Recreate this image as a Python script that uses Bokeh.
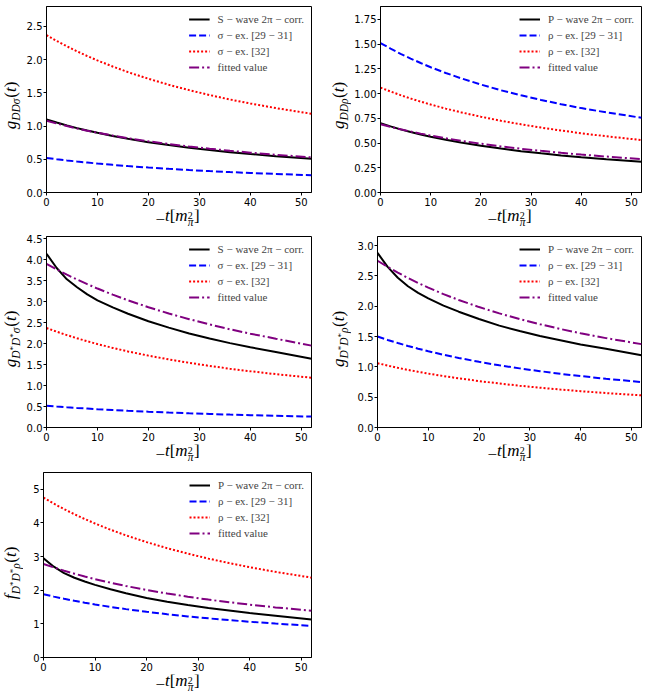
import math
from bokeh.plotting import figure
from bokeh.models import Range1d, FixedTicker, PrintfTickFormatter, Spacer
from bokeh.core.properties import value
from bokeh.layouts import column, row
from bokeh.embed import file_html
from bokeh.resources import INLINE

# ---------------- data ----------------
T = [0, 2, 4, 6, 8, 10, 13, 16, 20, 24, 28, 32, 36, 40, 45, 52]

# panel 1: g_{DD sigma}
p1_black = [1.10, 1.053, 1.009, 0.969, 0.932, 0.898, 0.851, 0.809, 0.758, 0.714, 0.675, 0.639, 0.607, 0.579, 0.546, 0.507]
p1_blue = [0.52, 0.501, 0.483, 0.466, 0.451, 0.436, 0.416, 0.398, 0.376, 0.356, 0.338, 0.322, 0.307, 0.294, 0.279, 0.26]
p1_red = [2.37, 2.282, 2.201, 2.125, 2.054, 1.988, 1.896, 1.812, 1.712, 1.622, 1.541, 1.467, 1.400, 1.340, 1.271, 1.185]
p1_purple = [1.08, 1.038, 1.000, 0.964, 0.931, 0.900, 0.857, 0.818, 0.771, 0.730, 0.692, 0.659, 0.628, 0.600, 0.568, 0.529]

# panel 2: g_{DD rho}
p2_black = [0.70, 0.668, 0.638, 0.612, 0.587, 0.564, 0.533, 0.505, 0.473, 0.444, 0.418, 0.396, 0.375, 0.356, 0.336, 0.311]
p2_blue = [1.51, 1.454, 1.402, 1.354, 1.309, 1.266, 1.208, 1.155, 1.091, 1.033, 0.982, 0.935, 0.892, 0.853, 0.810, 0.755]
p2_red = [1.06, 1.021, 0.984, 0.950, 0.919, 0.889, 0.848, 0.811, 0.766, 0.725, 0.689, 0.656, 0.626, 0.599, 0.568, 0.53]
p2_purple = [0.69, 0.663, 0.639, 0.616, 0.595, 0.575, 0.548, 0.523, 0.493, 0.466, 0.442, 0.421, 0.401, 0.383, 0.363, 0.338]

# panel 3: g_{D*D* sigma}
p3_black = [4.14, 3.80, 3.53, 3.34, 3.17, 3.03, 2.86, 2.71, 2.53, 2.38, 2.24, 2.12, 2.01, 1.91, 1.80, 1.64]
p3_blue = [0.52, 0.501, 0.483, 0.466, 0.451, 0.436, 0.416, 0.398, 0.376, 0.356, 0.338, 0.322, 0.307, 0.294, 0.279, 0.26]
p3_red = [2.37, 2.282, 2.201, 2.125, 2.054, 1.988, 1.896, 1.812, 1.712, 1.622, 1.541, 1.467, 1.400, 1.340, 1.271, 1.185]
p3_purple = [3.90, 3.765, 3.64, 3.525, 3.415, 3.31, 3.165, 3.03, 2.865, 2.715, 2.58, 2.455, 2.34, 2.235, 2.115, 1.95]

# panel 4: g_{D*D* rho}
p4_black = [2.88, 2.65, 2.47, 2.33, 2.22, 2.13, 2.01, 1.91, 1.79, 1.68, 1.59, 1.51, 1.44, 1.37, 1.30, 1.19]
p4_blue = [1.50, 1.444, 1.393, 1.345, 1.300, 1.258, 1.200, 1.147, 1.083, 1.026, 0.975, 0.929, 0.886, 0.848, 0.804, 0.75]
p4_red = [1.06, 1.021, 0.984, 0.950, 0.919, 0.889, 0.848, 0.811, 0.766, 0.725, 0.689, 0.656, 0.626, 0.599, 0.568, 0.53]
p4_purple = [2.75, 2.648, 2.554, 2.466, 2.383, 2.306, 2.200, 2.103, 1.986, 1.882, 1.788, 1.703, 1.625, 1.554, 1.474, 1.375]

# panel 5: f_{D*D* rho}
p5_black = [2.95, 2.70, 2.51, 2.37, 2.26, 2.16, 2.03, 1.91, 1.77, 1.66, 1.56, 1.47, 1.40, 1.32, 1.24, 1.13]
p5_blue = [1.88, 1.810, 1.746, 1.686, 1.629, 1.577, 1.504, 1.438, 1.358, 1.286, 1.222, 1.164, 1.111, 1.063, 1.008, 0.94]
p5_red = [4.75, 4.574, 4.411, 4.259, 4.117, 3.984, 3.800, 3.632, 3.431, 3.250, 3.088, 2.940, 2.807, 2.685, 2.546, 2.375]
p5_purple = [2.78, 2.677, 2.581, 2.492, 2.409, 2.331, 2.224, 2.126, 2.008, 1.902, 1.807, 1.721, 1.643, 1.571, 1.490, 1.39]

x_ticks = [0, 10, 20, 30, 40, 50]
y_ticks_1 = [0.0, 0.5, 1.0, 1.5, 2.0, 2.5]
y_ticks_2 = [0.0, 0.25, 0.5, 0.75, 1.0, 1.25, 1.5, 1.75]
y_ticks_3 = [0.0, 0.5, 1.0, 1.5, 2.0, 2.5, 3.0, 3.5, 4.0, 4.5]
y_ticks_4 = [0.0, 0.5, 1.0, 1.5, 2.0, 2.5, 3.0]
y_ticks_5 = [0, 1, 2, 3, 4, 5]

labels_sigma = ["S − wave 2π − corr.", "σ − ex. [29 − 31]", "σ − ex. [32]", "fitted value"]
labels_rho = ["P − wave 2π − corr.", "ρ − ex. [29 − 31]", "ρ − ex. [32]", "fitted value"]

# ---------------- helpers ----------------
W = {"g": 0.5, "D": 0.722, "t": 0.278, "m": 0.722, "f": 0.3, "σ": 0.56, "ρ": 0.52,
     "π": 0.55, "(": 0.333, ")": 0.333, "[": 0.333, "]": 0.333, "−": 0.564,
     "2": 0.5, "*": 0.5}
SERIF = "Liberation Serif"
M = 17    # main size
S = 11.5  # subscript size
AX_H = 17  # height of bottom tick-label strip
XH = 20    # height of x-label strip
DESC = 0.22  # font descent (em)


def tw(s, size):
    return sum(W.get(c, 0.5) for c in s) * size


def blank(w, h):
    f = figure(frame_width=w, frame_height=h, output_backend="svg", toolbar_location=None,
               x_axis_type=None, y_axis_type=None, min_border=0,
               x_range=Range1d(0, w), y_range=Range1d(0, h))
    f.outline_line_color = None
    f.background_fill_color = "white"
    f.border_fill_color = "white"
    return f


def put(f, x, y, text, size, italic, angle=0.0, baseline="bottom"):
    f.text(x=[x], y=[y], text=[text], angle=angle, text_font=value(SERIF),
           text_font_size=value(f"{size}px"),
           text_font_style="italic" if italic else "normal",
           text_align="left", text_baseline=baseline, text_color="black")


def ylabel_fig(w, h, parts, base_x, y_mid):
    f = blank(w, h)
    total = sum(tw(t, s) for t, s, sh, it in parts)
    y = y_mid - total / 2
    for text, size, shift, italic in parts:
        # anchor on the bottom of the em box (to the right of the rotated baseline)
        put(f, base_x - shift + DESC * size, y, text, size, italic, angle=math.pi / 2)
        y += tw(text, size)
    return f


def xlabel_fig(w, h, x_mid, base_y):
    f = blank(w, h)
    parts = [("−", M, 0, False, True), ("t", M, 0, True, True), ("[", M, 0, False, True),
             ("m", M, 0, True, True), ("2", 10, 4.5, False, False), ("π", S, -3.5, True, True),
             ("]", M, 0, False, True)]
    total = sum(tw(t, s) for t, s, sh, it, adv in parts if adv)
    x = x_mid - total / 2
    for text, size, shift, italic, adv in parts:
        # anchor on the bottom of the em box (below the baseline)
        put(f, x, base_y + shift - DESC * size, text, size, italic)
        if adv:
            x += tw(text, size)
    return f


def main_fig(width, bl, br, bt, fh, ymax, yticks, yfmt, series, labels):
    p = figure(width=width, height=bt + fh + AX_H, output_backend="svg",
               toolbar_location=None,
               x_range=Range1d(0, 52), y_range=Range1d(0, ymax),
               min_border_left=bl, min_border_right=br, min_border_top=bt,
               min_border_bottom=AX_H)
    p.xgrid.visible = False
    p.ygrid.visible = False
    p.outline_line_color = "black"
    p.outline_line_width = 1
    p.background_fill_color = "white"
    for ax in (p.xaxis[0], p.yaxis[0]):
        ax.axis_line_color = "black"
        ax.major_tick_line_color = "black"
        ax.minor_tick_line_color = None
        ax.major_tick_in = 0
        ax.major_tick_out = 3
        ax.major_label_standoff = 2
        ax.major_label_text_font = "DejaVu Sans"
        ax.major_label_text_font_size = "10px"
        ax.major_label_text_color = "black"
    p.yaxis.major_label_standoff = 1
    p.xaxis.ticker = FixedTicker(ticks=x_ticks)
    p.xaxis.formatter = PrintfTickFormatter(format="%d")
    p.yaxis.ticker = FixedTicker(ticks=yticks)
    p.yaxis.formatter = PrintfTickFormatter(format=yfmt)

    black, blue, red, purple = series
    p.line(T, black, line_color="black", line_width=2, legend_label=labels[0])
    p.line(T, blue, line_color="#0000ff", line_width=2, line_dash="7 3",
           legend_label=labels[1])
    p.line(T, red, line_color="#ff0000", line_width=2, line_dash="2 2",
           legend_label=labels[2])
    p.line(T, purple, line_color="#800080", line_width=2, line_dash="10 3 2 3",
           legend_label=labels[3])

    lg = p.legend[0]
    lg.location = "top_right"
    lg.border_line_alpha = 0
    lg.background_fill_alpha = 0
    lg.label_text_font = SERIF
    lg.label_text_font_size = "11px"
    lg.glyph_width = 21
    lg.glyph_height = 12
    lg.label_height = 12
    lg.label_standoff = 8
    lg.spacing = 4
    lg.padding = 3
    lg.margin = 4
    return p


def ylab(fn, sub):
    parts = [(fn, M, 0, True)]
    for item in sub:
        parts.append(item)
    parts += [("(", M, 0, False), ("t", M, 0, True), (")", M, 0, False)]
    return parts


def panel(col, bt, fh, ymax, yticks, yfmt, series, labels, yparts):
    if col == 0:
        yw, bl, br, width, bx = 23, 20, 14, 302, 16
    else:
        yw, bl, br, width, bx = 26, 26, 1, 291, 19
    p = main_fig(width, bl, br, bt, fh, ymax, yticks, yfmt, series, labels)
    main_h = bt + fh + AX_H
    yl = ylabel_fig(yw, main_h, yparts, bx, AX_H + fh / 2)
    xl = xlabel_fig(width, XH, bl + (width - bl - br) / 2, XH - 12)
    return column(row(yl, p), row(Spacer(width=yw, height=XH), xl))


SH = -3
yl1 = ylab("g", [("D", S, SH, True), ("D", S, SH, True), ("σ", S, SH, True)])
yl2 = ylab("g", [("D", S, SH, True), ("D", S, SH, True), ("ρ", S, SH, True)])
yl3 = ylab("g", [("D", S, SH, True), ("*", 9, 0, False), ("D", S, SH, True),
                 ("*", 9, 0, False), ("σ", S, SH, True)])
yl4 = ylab("g", [("D", S, SH, True), ("*", 9, 0, False), ("D", S, SH, True),
                 ("*", 9, 0, False), ("ρ", S, SH, True)])
yl5 = ylab("f", [("D", S, SH, True), ("*", 9, 0, False), ("D", S, SH, True),
                 ("*", 9, 0, False), ("ρ", S, SH, True)])

c1 = panel(0, 6, 186, 2.8, y_ticks_1, "%.1f",
           (p1_black, p1_blue, p1_red, p1_purple), labels_sigma, yl1)
c2 = panel(1, 6, 186, 1.88, y_ticks_2, "%.2f",
           (p2_black, p2_blue, p2_red, p2_purple), labels_rho, yl2)
c3 = panel(0, 7, 191, 4.55, y_ticks_3, "%.1f",
           (p3_black, p3_blue, p3_red, p3_purple), labels_sigma, yl3)
c4 = panel(1, 7, 191, 3.15, y_ticks_4, "%.1f",
           (p4_black, p4_blue, p4_red, p4_purple), labels_rho, yl4)
c5 = panel(0, 8, 185, 5.5, y_ticks_5, "%d",
           (p5_black, p5_blue, p5_red, p5_purple), labels_rho, yl5)

layout = column(row(c1, c2), row(c3, c4), row(c5))
open("out.html", "w").write(file_html(layout, INLINE))
